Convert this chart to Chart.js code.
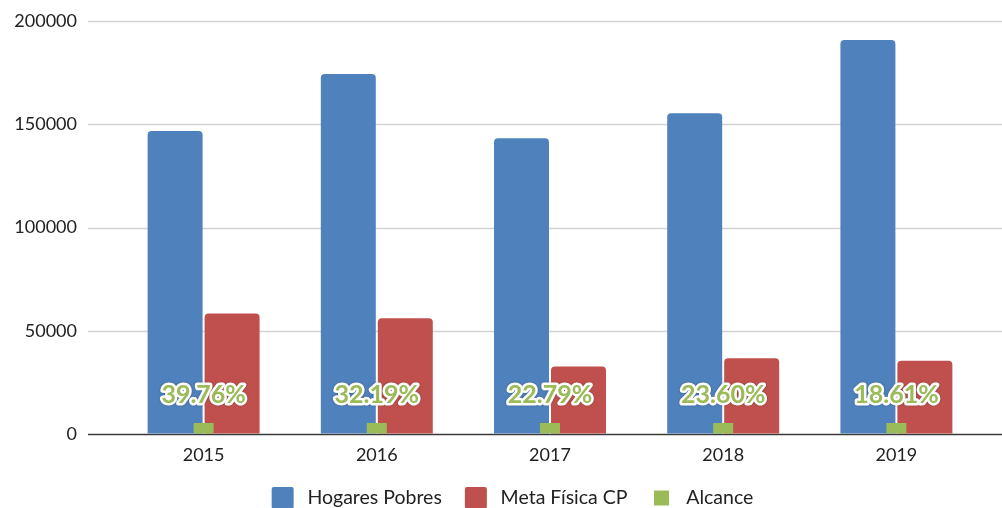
<!DOCTYPE html>
<html>
<head>
<meta charset="utf-8">
<script src="https://cdn.jsdelivr.net/npm/chart.js@4"></script>
<style>
  html, body { margin: 0; padding: 0; background: #ffffff; width: 1002px; height: 508px; overflow: hidden; }
  #wrap { position: relative; width: 1002px; height: 523px; }
</style>
</head>
<body>
<div id="wrap"><canvas id="c"></canvas></div>
<script>
const categories = ['2015', '2016', '2017', '2018', '2019'];
const hogaresPobres = [146700, 174300, 143200, 155300, 190800];
const metaFisica = [58350, 56100, 32650, 36650, 35500];
const alcance = [39.76, 32.19, 22.79, 23.60, 18.61];
const seriesNames = ['Hogares Pobres', 'Meta Física CP', 'Alcance'];
const yTicks = [0, 50000, 100000, 150000, 200000];

const FONT = 'Lato, "Open Sans", sans-serif';
const LEG_PAD = 19;

const gridPlugin = {
  id: 'extGrid',
  beforeDatasetsDraw(chart) {
    const y = chart.scales.y;
    const ctx = chart.ctx;
    const left = chart.chartArea.left - 29;
    const right = chart.width;
    ctx.save();
    yTicks.forEach(v => {
      const py = Math.round(y.getPixelForValue(v)) + 0.5;
      ctx.beginPath();
      ctx.moveTo(left, py);
      ctx.lineTo(right, py);
      if (v === 0) { ctx.strokeStyle = '#3a3a3a'; ctx.lineWidth = 1.3; }
      else { ctx.strokeStyle = '#d2d2d2'; ctx.lineWidth = 1.6; }
      ctx.stroke();
    });
    ctx.restore();
  }
};

const legendShift = {
  id: 'legendShift',
  afterLayout(chart) {
    if (chart.legend) { chart.legend.left += 19; chart.legend.right += 19; }
  }
};

const labelPlugin = {
  id: 'alcLabels',
  afterDatasetsDraw(chart) {
    const meta = chart.getDatasetMeta(2);
    const ctx = chart.ctx;
    ctx.save();
    ctx.font = 'bold 25px ' + FONT;
    ctx.textAlign = 'center';
    ctx.textBaseline = 'middle';
    ctx.lineJoin = 'round';
    meta.data.forEach((el, i) => {
      const txt = alcance[i].toFixed(2) + '%';
      const x = el.x, yy = el.y - 28;
      ctx.shadowColor = 'rgba(0,0,0,0.35)';
      ctx.shadowBlur = 2;
      ctx.strokeStyle = '#ffffff';
      ctx.lineWidth = 5;
      ctx.strokeText(txt, x, yy);
      ctx.shadowBlur = 0;
      ctx.shadowColor = 'transparent';
      ctx.fillStyle = '#9BBB59';
      ctx.fillText(txt, x, yy);
    });
    ctx.restore();
  }
};

new Chart(document.getElementById('c'), {
  type: 'bar',
  data: {
    labels: categories,
    datasets: [
      { label: seriesNames[0], data: hogaresPobres, backgroundColor: '#4F81BD', borderRadius: 4, order: 1,
        categoryPercentage: 0.658, barPercentage: 0.965 },
      { label: seriesNames[1], data: metaFisica, backgroundColor: '#C0504D', borderRadius: 4, order: 1,
        categoryPercentage: 0.658, barPercentage: 0.965 },
      { label: seriesNames[2], data: alcance, backgroundColor: '#9BBB59', grouped: false, order: 0,
        maxBarThickness: 20, minBarLength: 11, borderRadius: 0 }
    ]
  },
  options: {
    responsive: true,
    maintainAspectRatio: false,
    animation: false,
    layout: { padding: { top: 21, right: 19, left: 0, bottom: 0 } },
    scales: {
      x: {
        offset: true,
        grid: { display: false, drawTicks: false },
        border: { display: false },
        ticks: { color: '#222', font: { family: FONT, size: 18, lineHeight: 1 }, padding: 12 },
        afterFit(s) { s.height = 30; }
      },
      y: {
        min: 0, max: 200000,
        afterBuildTicks(s) { s.ticks = yTicks.map(v => ({ value: v })); },
        grid: { display: true, drawOnChartArea: false, drawTicks: true, tickLength: 30, tickColor: 'rgba(0,0,0,0)' },
        border: { display: false },
        ticks: { color: '#222', font: { family: FONT, size: 18 }, padding: 10, callback: v => String(v) },
        afterFit(s) { s.width = 117; }
      }
    },
    plugins: {
      tooltip: { enabled: false },
      legend: {
        position: 'bottom',
        labels: {
          sort: (a, b) => a.datasetIndex - b.datasetIndex,
          color: '#222',
          font: { family: FONT, size: 19.5 },
          boxWidth: 30, boxHeight: 30, padding: LEG_PAD,
          useBorderRadius: true, borderRadius: 6,
          generateLabels(chart) {
            const items = Chart.defaults.plugins.legend.labels.generateLabels(chart);
            items.forEach(it => {
              it.strokeStyle = '#ffffff';
              if (it.datasetIndex === 2) { it.lineWidth = 15; it.borderRadius = 7; }
              else { it.lineWidth = 8; it.borderRadius = 6; }
            });
            return items;
          }
        }
      }
    }
  },
  plugins: [gridPlugin, legendShift, labelPlugin]
});
</script>
</body>
</html>
